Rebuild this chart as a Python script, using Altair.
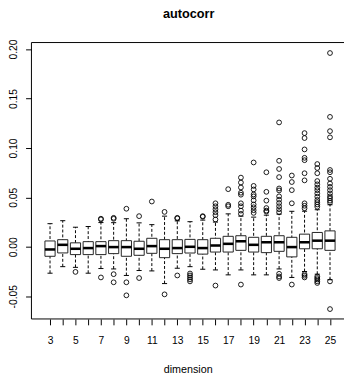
import altair as alt
import pandas as pd

dims = list(range(3, 26))
q1 = [-0.0096, -0.0062, -0.0079, -0.0079, -0.0079, -0.0069, -0.0096, -0.0086, -0.0066, -0.0110,
      -0.0069, -0.0063, -0.0074, -0.0053, -0.0053, -0.0036, -0.0053, -0.0059, -0.0046, -0.0102,
      -0.0020, -0.0020, -0.0036]
med = [-0.0027, 0.0020, -0.0020, -0.0013, 0.0007, -0.0003, -0.0003, -0.0020, 0.0007, -0.0020,
       -0.0013, 0.0000, -0.0013, 0.0013, 0.0030, 0.0056, 0.0020, 0.0046, 0.0046, -0.0003,
       0.0046, 0.0062, 0.0062]
q3 = [0.0059, 0.0072, 0.0040, 0.0052, 0.0052, 0.0062, 0.0062, 0.0056, 0.0086, 0.0072,
      0.0072, 0.0075, 0.0072, 0.0086, 0.0106, 0.0112, 0.0096, 0.0106, 0.0112, 0.0096,
      0.0128, 0.0145, 0.0161]
lo = [-0.0267, -0.0201, -0.0208, -0.0267, -0.0220, -0.0224, -0.0290, -0.0240, -0.0244, -0.0372,
      -0.0217, -0.0201, -0.0227, -0.0234, -0.0284, -0.0234, -0.0284, -0.0284, -0.0224, -0.0310,
      -0.0250, -0.0277, -0.0333]
hi = [0.0234, 0.0264, 0.0198, 0.0205, 0.0245, 0.0244, 0.0284, 0.0242, 0.0224, 0.0310,
      0.0262, 0.0254, 0.0270, 0.0250, 0.0333, 0.0310, 0.0300, 0.0320, 0.0330, 0.0359,
      0.0360, 0.0375, 0.0425]
outliers = [
    [],
    [],
    [-0.0254],
    [],
    [0.0284, 0.0277, -0.0310],
    [0.0293, 0.0283, -0.0277, -0.0359],
    [0.0385, -0.0359, -0.0491],
    [0.0310, -0.0316],
    [0.0458],
    [0.0353, -0.0481],
    [0.0293, 0.0287, -0.0290],
    [-0.0270, -0.0290, -0.0310, -0.0330, -0.0350],
    [0.0310, 0.0304],
    [0.0440, 0.0410, 0.0380, 0.0350, 0.0320, 0.0276, -0.0392],
    [0.0583, 0.0425, 0.0410],
    [0.0700, 0.0650, 0.0600, 0.0547, 0.0527, 0.0440, 0.0410, 0.0366, 0.0333, -0.0382],
    [0.0853, 0.0616, 0.0580, 0.0530, 0.0510, 0.0470, 0.0428, 0.0400, 0.0370, 0.0343],
    [0.0754, 0.0556, 0.0467, 0.0392, 0.0366, 0.0356],
    [0.1258, 0.0870, 0.0787, 0.0705, 0.0590, 0.0570, 0.0510, 0.0477, 0.0443, 0.0410, 0.0380,
     0.0350, -0.0273, -0.0300, -0.0316],
    [0.0721, 0.0655, 0.0573, 0.0440, -0.0382],
    [0.1150, 0.1100, 0.0985, 0.0900, 0.0876, 0.0744, 0.0672, 0.0440, 0.0415, 0.0390,
     -0.0277, -0.0293, -0.0310],
    [0.0837, 0.0797, 0.0744, 0.0665, 0.0632, 0.0599, 0.0573, 0.0540, 0.0507, 0.0474, 0.0451,
     0.0428, 0.0405, -0.0300, -0.0316, -0.0330, -0.0349, -0.0366],
    [0.1960, 0.1314, 0.1170, 0.1107, 0.0777, 0.0754, 0.0688, 0.0640, 0.0606, 0.0573, 0.0540,
     0.0510, 0.0490, 0.0467, 0.0448, -0.0350, -0.0630],
]
y_ticks = [-0.05, 0.0, 0.05, 0.10, 0.15, 0.20]
chart_title = "autocorr"
x_title = "dimension"

box_df = pd.DataFrame({"dim": dims, "q1": q1, "med": med, "q3": q3, "lo": lo, "hi": hi})
out_df = pd.DataFrame([{"dim": d, "v": v} for d, vs in zip(dims, outliers) for v in vs])

W, H = 320, 283
FONT = "Liberation Sans"
xscale = alt.Scale(domain=[1.54, 26.10], nice=False, zero=False)
yscale = alt.Scale(domain=[-0.0730, 0.2066], nice=False, zero=False)

xaxis = alt.Axis(values=dims, format="d",
                 labelExpr="datum.value % 2 == 1 ? datum.label : ''",
                 grid=False, domain=False, ticks=True, tickColor="black", tickSize=6, tickWidth=1,
                 labelFont=FONT, labelFontSize=10.5, labelColor="black", labelPadding=11,
                 labelFlush=False, labelOverlap=False,
                 title=x_title, titleFont=FONT, titleFontSize=11, titleFontWeight="normal",
                 titleColor="black", titleY=55, titleBaseline="alphabetic")
yaxis = alt.Axis(values=y_ticks,
                 labelExpr="datum.value < 0 ? '-' + format(-datum.value, '.2f') : format(datum.value, '.2f')",
                 grid=False, domain=False, tickColor="black", tickSize=6, tickWidth=1,
                 labelAngle=270, labelAlign="center", labelBaseline="alphabetic", labelPadding=9,
                 labelFont=FONT, labelFontSize=10.5, labelColor="black", labelOverlap=False,
                 title=None)


def X(f):
    return alt.X(f, type="quantitative", scale=xscale, axis=xaxis)


def Y(f):
    return alt.Y(f, type="quantitative", scale=yscale, axis=yaxis)


base = alt.Chart(box_df).transform_calculate(
    b0="datum.dim - 0.4", b1="datum.dim + 0.4",
    c0="datum.dim - 0.2", c1="datum.dim + 0.2")

whisk = base.mark_rule(color="black", strokeWidth=1, strokeDash=[3, 2]).encode(
    x=X("dim"), y=Y("lo"), y2="hi:Q")
box = base.mark_rect(fill="white", stroke="#222222", strokeWidth=1).encode(
    x=X("b0"), x2="b1:Q", y=Y("q1"), y2="q3:Q")
median = base.mark_rule(color="black", strokeWidth=2.6).encode(
    x=X("b0"), x2="b1:Q", y=Y("med"))
cap_lo = base.mark_rule(color="black", strokeWidth=1).encode(
    x=X("c0"), x2="c1:Q", y=Y("lo"))
cap_hi = base.mark_rule(color="black", strokeWidth=1).encode(
    x=X("c0"), x2="c1:Q", y=Y("hi"))
pts = alt.Chart(out_df).mark_point(shape="circle", filled=False, color="black",
                                   size=24, strokeWidth=0.9, opacity=1).encode(
    x=X("dim"), y=Y("v"))

one = pd.DataFrame({"t": [chart_title]})
frame_top = alt.Chart(one).mark_rule(color="black", strokeWidth=1).encode(
    x=alt.value(0), x2=alt.value(W), y=alt.value(0))
frame_bot = alt.Chart(one).mark_rule(color="black", strokeWidth=1).encode(
    x=alt.value(0), x2=alt.value(W), y=alt.value(H))
frame_left = alt.Chart(one).mark_rule(color="black", strokeWidth=1).encode(
    x=alt.value(0), y=alt.value(0), y2=alt.value(H))
title_txt = alt.Chart(one).mark_text(font=FONT, fontSize=13, fontWeight="bold", color="black",
                                     align="center", baseline="alphabetic").encode(
    text="t:N", x=alt.value(W / 2 + 1), y=alt.value(-25))

chart = alt.layer(whisk, box, median, cap_lo, cap_hi, pts,
                  frame_top, frame_bot, frame_left, title_txt).properties(
    width=W, height=H,
    autosize=alt.AutoSizeParams(type="none"),
    padding={"left": 24, "top": 31, "right": 0, "bottom": 53},
    background="white",
).configure_view(stroke="transparent")

chart.save("out.html", embed_options={"renderer": "svg", "actions": False})
